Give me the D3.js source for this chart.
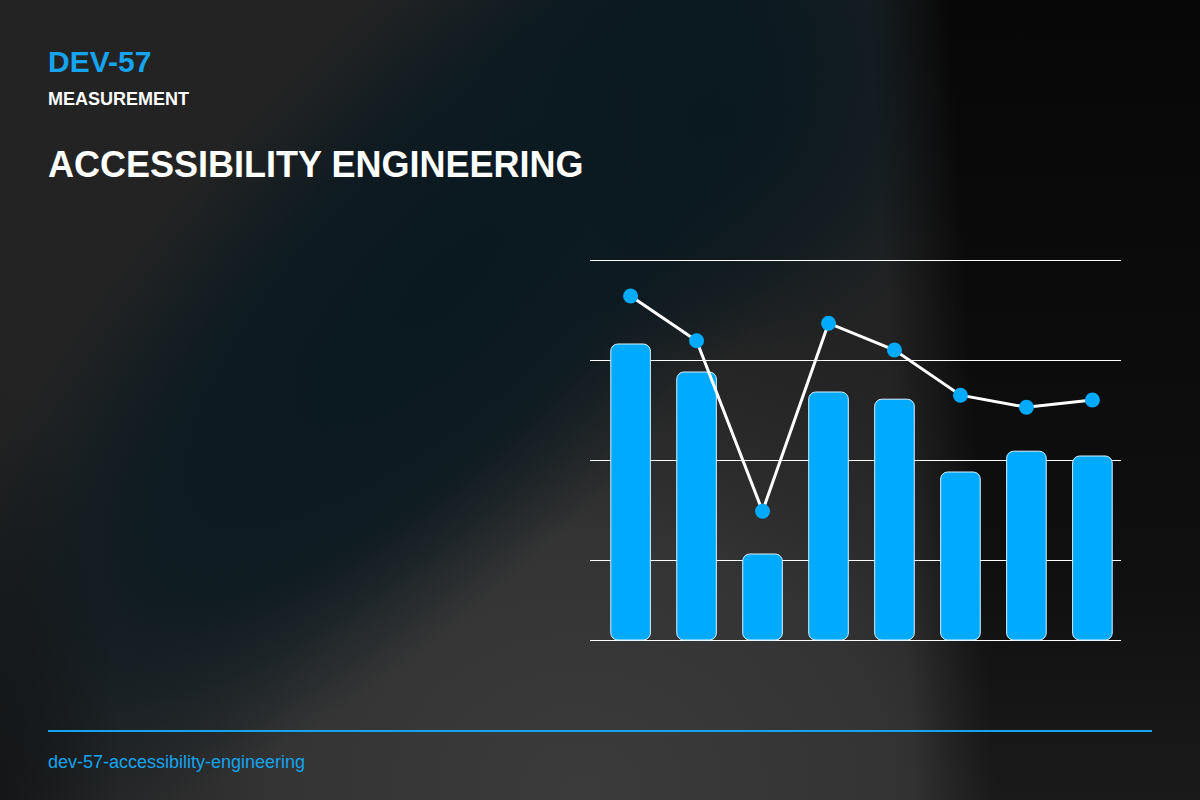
<!DOCTYPE html>
<html>
<head>
<meta charset="utf-8">
<script src="https://cdn.jsdelivr.net/npm/d3@7"></script>
<style>
  html, body { margin: 0; padding: 0; background: #222; }
  svg { display: block; font-family: "Liberation Sans", Arial, sans-serif; }
</style>
</head>
<body>
<div id="chart"></div>
<script>
// data
const categories = ['S1', 'S2', 'S3', 'S4', 'S5', 'S6', 'S7', 'S8'];
const barValues = [74, 67, 21.5, 62, 60.2, 42, 47.2, 46];
const lineValues = [86, 74.8, 32.2, 79.2, 72.5, 61.2, 58.2, 60];
const gridTicks = [20, 45, 70, 95];

const width = 1200, height = 800;
const accent = '#16a4ee';
const plot = {left: 590, right: 1121, top: 260, bottom: 640};

const svg = d3.select('#chart').append('svg')
    .attr('width', width)
    .attr('height', height);

const defs = svg.append('defs');

function radial(id, transform, stops) {
    const g = defs.append('radialGradient').attr('id', id)
        .attr('gradientUnits', 'userSpaceOnUse')
        .attr('cx', 0).attr('cy', 0).attr('r', 1)
        .attr('gradientTransform', transform);
    stops.forEach(s => g.append('stop')
        .attr('offset', s[0]).attr('stop-color', s[1]).attr('stop-opacity', s[2]));
}

// background layers
radial('glow', 'translate(580,790) scale(600,500)', [
    [0, '#3b3b3b', 1], [0.5, '#373737', 0.85], [1, '#2c2c2c', 0]]);
radial('blue', 'translate(450,280) rotate(-46) scale(740,260)', [
    [0, '#0a1820', 1], [0.55, '#0c1a21', 0.92], [1, '#0f1b21', 0]]);
radial('blueTop', 'translate(720,120) scale(260,240)', [
    [0, '#0a1820', 0.9], [0.6, '#0b1920', 0.6], [1, '#0b1920', 0]]);
radial('corner', 'translate(0,800) scale(120,420)', [
    [0, '#121416', 0.9], [1, '#121416', 0]]);

// dark right side, edge leaning slightly right towards the bottom
const rightFade = defs.append('linearGradient').attr('id', 'rightFade')
    .attr('gradientUnits', 'userSpaceOnUse')
    .attr('x1', 870).attr('y1', 0).attr('x2', 949.7).attr('y2', -4.8);
rightFade.append('stop').attr('offset', 0).attr('stop-color', '#fff').attr('stop-opacity', 0);
rightFade.append('stop').attr('offset', 1).attr('stop-color', '#fff').attr('stop-opacity', 1);
defs.append('mask').attr('id', 'rightMask')
    .append('rect').attr('width', width).attr('height', height).attr('fill', 'url(#rightFade)');

const rightTone = defs.append('linearGradient').attr('id', 'rightTone')
    .attr('x1', 0).attr('y1', 0).attr('x2', 0).attr('y2', 1);
rightTone.append('stop').attr('offset', 0).attr('stop-color', '#070707');
rightTone.append('stop').attr('offset', 0.7).attr('stop-color', '#0f0f0f');
rightTone.append('stop').attr('offset', 1).attr('stop-color', '#1a1a1a');

['#232323', 'url(#glow)', 'url(#blue)', 'url(#blueTop)', 'url(#corner)'].forEach(f => {
    svg.append('rect').attr('width', width).attr('height', height).attr('fill', f);
});
svg.append('rect').attr('width', width).attr('height', height)
    .attr('fill', 'url(#rightTone)').attr('mask', 'url(#rightMask)');

// header
svg.append('text').attr('x', 48).attr('y', 72)
    .attr('fill', accent).attr('font-size', 30).attr('font-weight', 'bold')
    .text('DEV-57');
svg.append('text').attr('x', 48).attr('y', 105)
    .attr('fill', '#fff').attr('font-size', 18).attr('font-weight', 'bold')
    .text('MEASUREMENT');
svg.append('text').attr('x', 48).attr('y', 177)
    .attr('fill', '#fff').attr('font-size', 36).attr('font-weight', 'bold')
    .text('ACCESSIBILITY ENGINEERING');

// scales
const x = d3.scaleBand()
    .domain(categories)
    .range([plot.left + 1, plot.left + 542])
    .paddingInner(0.4)
    .paddingOuter(0.3);

const y = d3.scaleLinear()
    .domain([0, 95])
    .range([plot.bottom, plot.top]);

// grid
svg.append('g').selectAll('line')
    .data(gridTicks.concat([0]))
    .join('line')
    .attr('x1', plot.left).attr('x2', plot.right)
    .attr('y1', d => Math.round(y(d)) + 0.5).attr('y2', d => Math.round(y(d)) + 0.5)
    .attr('stroke', '#fff').attr('stroke-width', 1);

// bars
svg.append('g').selectAll('rect')
    .data(barValues)
    .join('rect')
    .attr('x', (d, i) => x(categories[i]))
    .attr('y', d => y(d))
    .attr('width', x.bandwidth())
    .attr('height', d => y(0) - y(d))
    .attr('rx', 7)
    .attr('fill', '#00aaff')
    .attr('stroke', '#d8f3ff')
    .attr('stroke-width', 1);

// line + points
const line = d3.line()
    .x((d, i) => x(categories[i]) + x.bandwidth() / 2)
    .y(d => y(d));

svg.append('path')
    .datum(lineValues)
    .attr('d', line)
    .attr('fill', 'none')
    .attr('stroke', '#fff')
    .attr('stroke-width', 3);

svg.append('g').selectAll('circle')
    .data(lineValues)
    .join('circle')
    .attr('cx', (d, i) => x(categories[i]) + x.bandwidth() / 2)
    .attr('cy', d => y(d))
    .attr('r', 7.5)
    .attr('fill', '#00aaff');

// footer
svg.append('line')
    .attr('x1', 48).attr('x2', 1152)
    .attr('y1', 731).attr('y2', 731)
    .attr('stroke', accent).attr('stroke-width', 2);
svg.append('text').attr('x', 48).attr('y', 768)
    .attr('fill', accent).attr('font-size', 18)
    .text('dev-57-accessibility-engineering');
</script>
</body>
</html>
